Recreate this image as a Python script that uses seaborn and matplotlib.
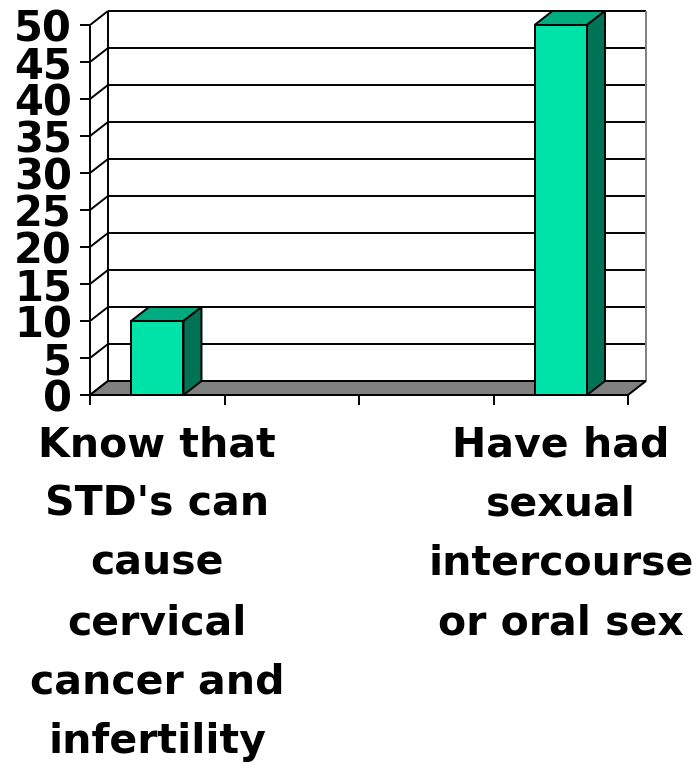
import numpy as np
import pandas as pd
import matplotlib
matplotlib.use("Agg")
import matplotlib.pyplot as plt
import seaborn as sns
from matplotlib.patches import Polygon, Rectangle
from matplotlib.lines import Line2D
from matplotlib.transforms import IdentityTransform

# ---- data ----
categories = ["cat1", "cat2", "cat3", "cat4"]
tick_labels = ["Know that\nSTD's can\ncause\ncervical\ncancer and\ninfertility",
               "", "",
               "Have had\nsexual\nintercourse\nor oral sex"]
values = [10, np.nan, np.nan, 50]
y_ticks = [0, 5, 10, 15, 20, 25, 30, 35, 40, 45, 50]

# ---- style ----
FRONT = "#00E3A8"
TOP = "#00AC7F"
SIDE = "#007356"
FLOOR = "#808080"
LW = 1.4
DX, DY = 18, 14  # depth offset in pixels

sns.set_theme(style="white")
plt.rcParams["font.family"] = ["DejaVu Sans"]
plt.rcParams["font.weight"] = "bold"

DPI = 100
fig = plt.figure(figsize=(7, 7.74), dpi=DPI)
fig.patch.set_facecolor("white")
ax = fig.add_axes([90 / 700, 1 - 395 / 774, 538 / 700, 370 / 774])
ax.patch.set_visible(False)

df = pd.DataFrame({"category": categories, "value": values})
sns.barplot(data=df, x="category", y="value", order=categories, color=FRONT,
            saturation=1, width=0.39, edgecolor="black", linewidth=LW,
            ax=ax, zorder=5, errorbar=None)
bars = [p for p in ax.patches if isinstance(p, Rectangle)]

ax.set_xlim(-0.5, len(categories) - 0.5)
ax.set_ylim(min(y_ticks), max(y_ticks))
ax.set_xlabel("")
ax.set_ylabel("")

for s in ["top", "right"]:
    ax.spines[s].set_visible(False)
for s in ["left", "bottom"]:
    ax.spines[s].set_color("black")
    ax.spines[s].set_linewidth(LW)
    ax.spines[s].set_zorder(6)

ident = IdentityTransform()


def disp(x, y):
    return np.array(ax.transData.transform((x, y)))


def back(p):
    return p + np.array([DX, DY])


def add_line(p0, p1, color="black", z=1.0, lw=LW):
    ln = Line2D([p0[0], p1[0]], [p0[1], p1[1]], color=color, lw=lw,
                transform=ident, clip_on=False, zorder=z,
                solid_capstyle="butt")
    ax.add_artist(ln)


def add_poly(pts, fc, z):
    pg = Polygon(np.array(pts), closed=True, facecolor=fc, edgecolor="black",
                 lw=LW, transform=ident, clip_on=False, zorder=z,
                 joinstyle="miter")
    ax.add_artist(pg)


x0, x1 = ax.get_xlim()
y0, y1 = ax.get_ylim()

# back wall & left wall gridlines
for t in y_ticks:
    fl = disp(x0, t)
    fr = disp(x1, t)
    add_line(back(fl), back(fr), z=1.0)
    add_line(fl, back(fl), z=1.0)
# back wall verticals
add_line(back(disp(x0, y0)), back(disp(x0, y1)), z=1.0)
add_line(back(disp(x1, y0)), back(disp(x1, y1)), color="#808080", z=1.0)

# floor
fl, fr = disp(x0, y0), disp(x1, y0)
add_poly([fl, fr, back(fr), back(fl)], FLOOR, 2)

# 3D bar faces
for p in bars:
    h = p.get_height()
    if not np.isfinite(h) or h <= 0:
        continue
    bx0 = p.get_x()
    bx1 = bx0 + p.get_width()
    tl, tr = disp(bx0, h), disp(bx1, h)
    br = disp(bx1, 0)
    add_poly([tl, tr, back(tr), back(tl)], TOP, 5.1)
    add_poly([br, tr, back(tr), back(br)], SIDE, 5.1)

# ticks
ax.set_yticks(y_ticks)
ax.set_yticklabels([str(t) for t in y_ticks])
ax.tick_params(axis="y", left=True, direction="out", length=7, width=LW,
               color="black", labelsize=30, pad=6, labelcolor="black")
ax.set_xticks(range(len(categories)))
ax.set_xticklabels(tick_labels)
ax.set_xticks(np.arange(-0.5, len(categories), 1.0), minor=True)
ax.tick_params(axis="x", which="major", bottom=True, length=0, labelsize=29.5,
               pad=22, labelcolor="black")
ax.tick_params(axis="x", which="minor", bottom=True, direction="out",
               length=7, width=LW, color="black")
for lab in ax.get_xticklabels():
    lab.set_fontweight("bold")
    lab.set_linespacing(1.62)
    lab.set_horizontalalignment("center")
    lab.set_verticalalignment("top")
for lab in ax.get_yticklabels():
    lab.set_fontweight("bold")

fig.savefig("out.png", dpi=DPI, facecolor="white")
